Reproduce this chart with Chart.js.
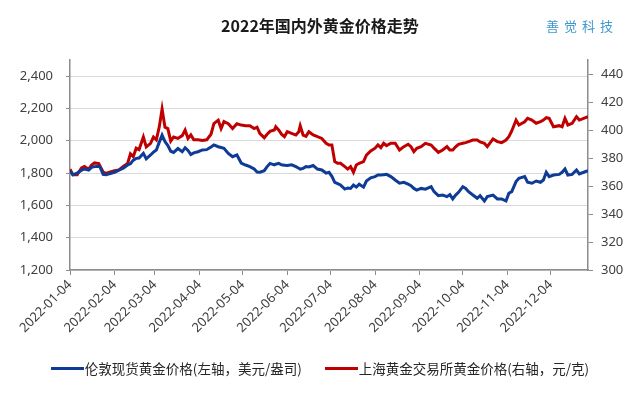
<!DOCTYPE html>
<html lang="zh-CN">
<head>
<meta charset="utf-8">
<title>2022年国内外黄金价格走势</title>
<script src="https://cdn.jsdelivr.net/npm/chart.js@4.4.1/dist/chart.umd.min.js"></script>
<style>
    html, body { margin: 0; padding: 0; background: #fff; }
    #chart-wrap { position: relative; width: 640px; height: 393px; font-family: "Noto Sans CJK SC", "Noto Sans", sans-serif; }
    #goldPriceChart { position: absolute; left: 0; top: 0; }
    .chart-title { position: absolute; left: 0; top: 14px; width: 640px; text-align: center; font-size: 16px; font-weight: bold; color: #1a1a1a; line-height: 22px; }
    .chart-brand { position: absolute; left: 546px; top: 16px; font-size: 13px; letter-spacing: 5px; color: #3d9ad1; line-height: 20px; }
    .chart-legend { position: absolute; left: 0; top: 358px; width: 640px; display: flex; justify-content: center; gap: 23px; font-size: 13.5px; color: #262626; line-height: 20px; }
    .legend-item { display: flex; align-items: center; }
    .legend-line { display: inline-block; width: 33px; height: 3px; margin-right: 1px; }
</style>
</head>
<body>
<div id="chart-wrap">
    <canvas id="goldPriceChart" width="640" height="393"></canvas>
    <div class="chart-title">2022年国内外黄金价格走势</div>
    <div class="chart-brand">善觉科技</div>
    <div class="chart-legend" id="chart-legend"></div>
</div>
<script>
// trading dates (calendar x axis)
const tradeDates = [
    '2022-01-04','2022-01-06','2022-01-09','2022-01-12','2022-01-14','2022-01-17','2022-01-19','2022-01-21','2022-01-24','2022-01-25','2022-01-27','2022-01-29',
    '2022-02-01','2022-02-04','2022-02-07','2022-02-10','2022-02-13','2022-02-15','2022-02-17','2022-02-19','2022-02-21','2022-02-24','2022-02-26',
    '2022-03-01','2022-03-03','2022-03-05','2022-03-07','2022-03-09','2022-03-11','2022-03-13','2022-03-15','2022-03-17','2022-03-20','2022-03-23','2022-03-25','2022-03-27','2022-03-29','2022-03-31',
    '2022-04-03','2022-04-06','2022-04-09','2022-04-12','2022-04-14','2022-04-17','2022-04-19','2022-04-21','2022-04-24','2022-04-27','2022-04-30',
    '2022-05-03','2022-05-06','2022-05-09','2022-05-12','2022-05-14','2022-05-16','2022-05-19','2022-05-21','2022-05-23','2022-05-26','2022-05-27','2022-05-29','2022-05-31',
    '2022-06-02','2022-06-04','2022-06-07','2022-06-10','2022-06-12','2022-06-13','2022-06-15','2022-06-17','2022-06-19','2022-06-22','2022-06-25','2022-06-28',
    '2022-07-01','2022-07-03','2022-07-05','2022-07-07','2022-07-09','2022-07-11','2022-07-14','2022-07-16','2022-07-18','2022-07-20','2022-07-22','2022-07-24','2022-07-27','2022-07-29',
    '2022-08-01','2022-08-04','2022-08-06','2022-08-08','2022-08-10','2022-08-12','2022-08-15','2022-08-18','2022-08-21','2022-08-24','2022-08-27','2022-08-29','2022-08-31',
    '2022-09-02','2022-09-05','2022-09-08','2022-09-12','2022-09-14','2022-09-17','2022-09-20','2022-09-23','2022-09-25','2022-09-27','2022-09-29',
    '2022-10-01','2022-10-04','2022-10-06','2022-10-08','2022-10-11','2022-10-14','2022-10-16','2022-10-19','2022-10-21','2022-10-25','2022-10-28','2022-10-31',
    '2022-11-03','2022-11-05','2022-11-07','2022-11-10','2022-11-12','2022-11-16','2022-11-18','2022-11-21','2022-11-24','2022-11-27','2022-11-29',
    '2022-12-01','2022-12-03','2022-12-06','2022-12-10','2022-12-12','2022-12-14','2022-12-16','2022-12-19','2022-12-22','2022-12-24','2022-12-27','2022-12-30'
];

// 伦敦现货黄金 (USD/oz, left axis)
const londonSpot = [
    1811,1790,1800,1818,1825,1818,1835,1840,1842,1835,1792,1790,
    1797,1805,1818,1830,1850,1858,1880,1891,1893,1922,1888,
    1912,1930,1943,1990,2035,1995,1970,1935,1928,1952,1932,1957,1940,1915,1925,
    1932,1943,1945,1962,1974,1963,1958,1953,1922,1901,1912,
    1862,1850,1840,1825,1806,1805,1815,1840,1860,1851,1855,1860,1851,
    1849,1847,1851,1840,1830,1825,1829,1840,1838,1847,1825,1819,
    1800,1805,1780,1743,1735,1726,1701,1708,1705,1726,1713,1731,1713,1751,
    1771,1778,1788,1788,1790,1792,1778,1757,1737,1743,1731,1722,1705,
    1695,1705,1700,1716,1685,1660,1664,1654,1667,1640,1664,
    1681,1716,1705,1685,1664,1644,1660,1627,1654,1664,1640,1640,
    1627,1675,1685,1747,1768,1778,1743,1737,1751,1743,1757,
    1805,1778,1788,1792,1805,1825,1788,1792,1819,1795,1805,1815
];

// 上海黄金交易所 (CNY/g, right axis)
const shanghaiSpot = [
    372,368,368,373,374,372,375,376.5,376,374,370,369,
    370,371,371.5,374,376,383,381,387,386,395,388,
    390.5,395,393,402,415,402,401,392,395,394,396,400,394,396.5,393,
    393,392.5,393,397,404.5,407,401,406,404.5,401,404.5,
    403.5,403,403,401,402,397.5,394.5,397,399,400,402.3,400,397,
    395.2,398.8,397.6,396.4,398.8,403,396.4,395.5,398.8,396.5,395.2,394,
    390.5,389.3,389.3,377.4,376.2,376.2,373.8,372.1,373.8,369.8,375,376.2,377.4,382,
    385,387,389.3,387.4,390.5,388.8,390.5,390.5,385.7,388.1,389.8,388.1,384.5,
    386.9,388.1,390.5,389.3,387,384,385.7,388.1,385.7,385.7,388,
    389.8,390.5,391,391.7,392.8,392.8,391.5,390.5,388.1,393.6,391.7,390.9,
    392.8,395.2,399.3,407.1,403.6,405.9,408.3,407.1,404.8,405.9,407.1,
    408.8,408.3,402.3,403.1,402.3,408.3,403.6,404.8,409.5,407.1,408.3,409.5
];

const seriesNames = ['伦敦现货黄金价格(左轴，美元/盎司)', '上海黄金交易所黄金价格(右轴，元/克)'];
const seriesColors = ['#0d3b96', '#c00000'];

const monthTicks = ['2022-01-04','2022-02-04','2022-03-04','2022-04-04','2022-05-04','2022-06-04',
                    '2022-07-04','2022-08-04','2022-09-04','2022-10-04','2022-11-04','2022-12-04'];
const leftTicks = [1200, 1400, 1600, 1800, 2000, 2200, 2400];
const rightTicks = [300, 320, 340, 360, 380, 400, 420, 440];

const AXIS_GREY = '#8c8c8c';
const START_DATE = tradeDates[0];

// days since the first trading date
const dayOf = s => (Date.parse(s) - Date.parse(START_DATE)) / 86400000;

const toPoints = values => tradeDates.map((d, i) => ({ x: dayOf(d), y: values[i] }));

function buildLegend() {
    const box = document.getElementById('chart-legend');
    seriesNames.forEach((name, i) => {
        const item = document.createElement('div');
        item.className = 'legend-item';
        item.innerHTML = `<span class="legend-line" style="background:${seriesColors[i]}"></span><span>${name}</span>`;
        box.appendChild(item);
    });
}

function buildChart() {
    Chart.defaults.font.family = '"Noto Sans", "Noto Sans CJK SC", sans-serif';
    Chart.defaults.font.size = 13;
    Chart.defaults.color = '#404040';

    const ctx = document.getElementById('goldPriceChart').getContext('2d');
    new Chart(ctx, {
        type: 'line',
        data: {
            datasets: [
                { label: seriesNames[0], data: toPoints(londonSpot), yAxisID: 'yLeft',
                  borderColor: seriesColors[0], borderWidth: 3, pointRadius: 0, tension: 0 },
                { label: seriesNames[1], data: toPoints(shanghaiSpot), yAxisID: 'yRight',
                  borderColor: seriesColors[1], borderWidth: 3, pointRadius: 0, tension: 0 }
            ]
        },
        options: {
            responsive: false,
            animation: false,
            layout: { padding: { top: 60, bottom: 43, left: 0, right: 0 } },
            plugins: { legend: { display: false }, tooltip: { enabled: false } },
            scales: {
                x: {
                    type: 'linear',
                    min: 0,
                    max: dayOf('2022-12-30'),
                    afterBuildTicks: s => { s.ticks = monthTicks.map(t => ({ value: dayOf(t) })); },
                    afterFit: s => { s.height = 80; },
                    ticks: { autoSkip: false, minRotation: 45, maxRotation: 45, padding: 2,
                             callback: (v, i) => monthTicks[i] },
                    grid: { drawOnChartArea: false, tickLength: 5, tickColor: AXIS_GREY, tickWidth: 1 },
                    border: { color: AXIS_GREY, width: 1.5 }
                },
                yLeft: {
                    position: 'left',
                    min: 1200,
                    max: 2500,
                    afterBuildTicks: s => { s.ticks = leftTicks.map(v => ({ value: v })); },
                    afterFit: s => { s.width = 70; },
                    ticks: { padding: 13, callback: v => v.toLocaleString('en-US') },
                    grid: { color: '#d9d9d9', lineWidth: 1, tickLength: 4, tickColor: AXIS_GREY },
                    border: { color: AXIS_GREY, width: 1.5 }
                },
                yRight: {
                    position: 'right',
                    min: 300,
                    max: 450,
                    afterBuildTicks: s => { s.ticks = rightTicks.map(v => ({ value: v })); },
                    afterFit: s => { s.width = 52; },
                    ticks: { padding: 8 },
                    grid: { drawOnChartArea: false, tickLength: 5, tickColor: AXIS_GREY },
                    border: { color: AXIS_GREY, width: 1.5 }
                }
            }
        }
    });
}

buildLegend();
buildChart();
</script>
</body>
</html>
